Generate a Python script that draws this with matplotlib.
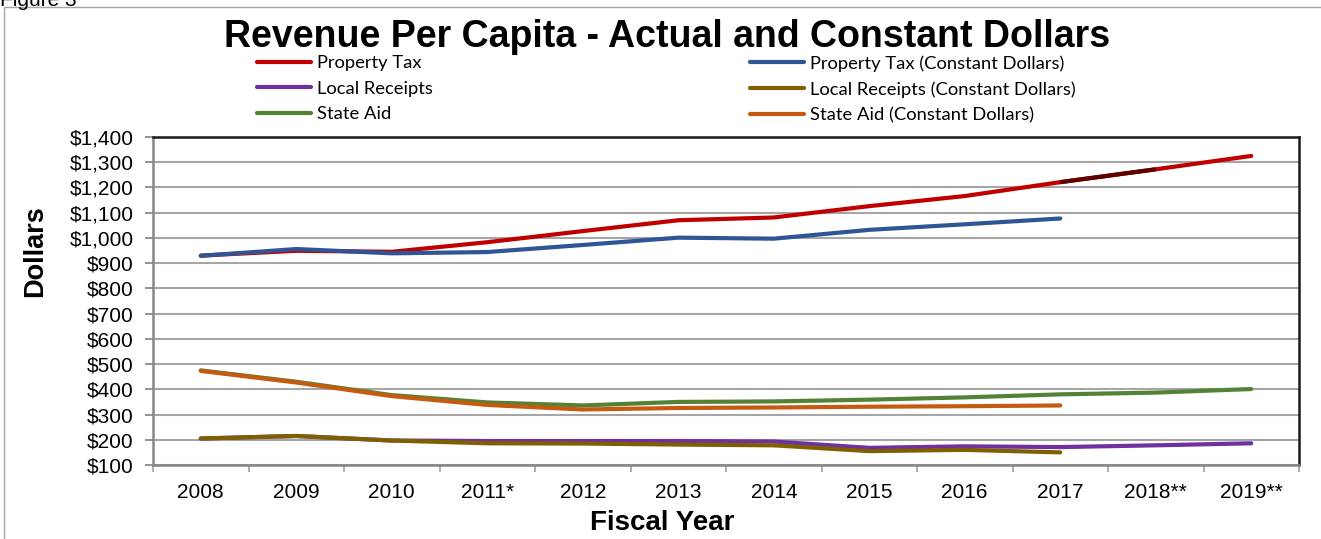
import matplotlib as mpl
import matplotlib.pyplot as plt
from matplotlib.patches import Rectangle
import numpy as np

years = ['2008', '2009', '2010', '2011*', '2012', '2013', '2014', '2015',
         '2016', '2017', '2018**', '2019**']

property_tax = [930, 949, 945, 983, 1027, 1070, 1081, 1126, 1166, 1221, 1272, 1325]
property_tax_const = [929, 956, 939, 944, 972, 1001, 997, 1032, 1054, 1077]
local_receipts = [205, 215, 197, 195, 195, 195, 193, 168, 174, 171, 178, 186]
local_receipts_const = [205, 215, 197, 186, 185, 181, 178, 155, 160, 150]
state_aid = [475, 430, 377, 348, 336, 350, 352, 359, 368, 380, 387, 401]
state_aid_const = [473, 427, 373, 338, 320, 326, 328, 331, 333, 336]

W, H = 1321, 539
fig = plt.figure(figsize=(W / 100, H / 100), dpi=100)
mpl.rcParams['font.family'] = ['Liberation Sans', 'DejaVu Sans']

# area del grafico (pixeles -> fraccion)
x0, x1, y0, y1 = 153, 1299, 137, 465
ax = fig.add_axes([x0 / W, 1 - y1 / H, (x1 - x0) / W, (y1 - y0) / H])

x = np.arange(len(years))
lw = 3
series = [
    (property_tax, '#C00000', 'Property Tax'),
    (local_receipts, '#7030A0', 'Local Receipts'),
    (state_aid, '#548235', 'State Aid'),
    (property_tax_const, '#2F5597', 'Property Tax (Constant Dollars)'),
    (local_receipts_const, '#7F6000', 'Local Receipts (Constant Dollars)'),
    (state_aid_const, '#C55A11', 'State Aid (Constant Dollars)'),
]
handles = []
for vals, color, label in series:
    h, = ax.plot(x[:len(vals)], vals, color=color, linewidth=lw, label=label,
                 solid_capstyle='round', solid_joinstyle='round')
    handles.append(h)
    if label == 'Property Tax':
        # tramo 2017-2018 resaltado en rojo oscuro
        ax.plot(x[9:11], vals[9:11], color='#5C0000', linewidth=lw,
                solid_capstyle='butt', zorder=h.get_zorder() + 0.1)

ax.set_xlim(-0.5, len(years) - 0.5)
ax.set_ylim(100, 1400)
ax.set_yticks(np.arange(100, 1401, 100))
ax.set_yticklabels(['${:,}'.format(v) for v in range(100, 1401, 100)], fontsize=15)
ax.set_xticks(x)
ax.set_xticklabels(years, fontsize=15)
ax.set_xticks(np.arange(-0.5, len(years), 1), minor=True)
ax.tick_params(axis='x', which='major', length=0, pad=13)
ax.tick_params(axis='x', which='minor', length=5, width=1.2, color='#a0a0a0')
ax.tick_params(axis='y', length=6, width=1.2, color='#808080', pad=8)

ax.grid(True, axis='y', color='#a6a6a6', linewidth=1.5)
ax.set_axisbelow(True)
for side in ['top', 'right']:
    ax.spines[side].set_color('#1a1a1a')
    ax.spines[side].set_linewidth(1.8)
for side in ['left', 'bottom']:
    ax.spines[side].set_color('#868686')
    ax.spines[side].set_linewidth(1.8)

fig.text(667 / W, 1 - 47 / H, 'Revenue Per Capita - Actual and Constant Dollars',
         ha='center', va='baseline', fontsize=27, fontweight='bold')
fig.text(35 / W, 1 - 251 / H, 'Dollars', rotation=90, ha='center', va='center',
         fontsize=19.5, fontweight='bold')
fig.text(662 / W, 1 - 523 / H, 'Fiscal Year', ha='center', va='center',
         fontsize=20, fontweight='bold')
fig.text(0.0, 1 - 6 / H, 'Figure 3', ha='left', va='baseline', fontsize=15)

# marco exterior
fig.patches.append(Rectangle((4 / W, -0.1), 1.2, 1.1 - 7 / H, transform=fig.transFigure,
                             fill=False, edgecolor='#a6a6a6', linewidth=1))

# leyenda en dos columnas
leg_font = {'family': ['Lato', 'DejaVu Sans'], 'size': 13.2}
for i, xpos in enumerate([257, 750]):
    leg = fig.legend(handles=handles[i * 3:(i + 1) * 3], loc='upper left',
                     bbox_to_anchor=(xpos / W, 1 - 55 / H), frameon=False,
                     prop=leg_font, handlelength=2.95, handletextpad=0.3,
                     labelspacing=0.52, borderpad=0, borderaxespad=0)

fig.savefig('out.png', dpi=100)
